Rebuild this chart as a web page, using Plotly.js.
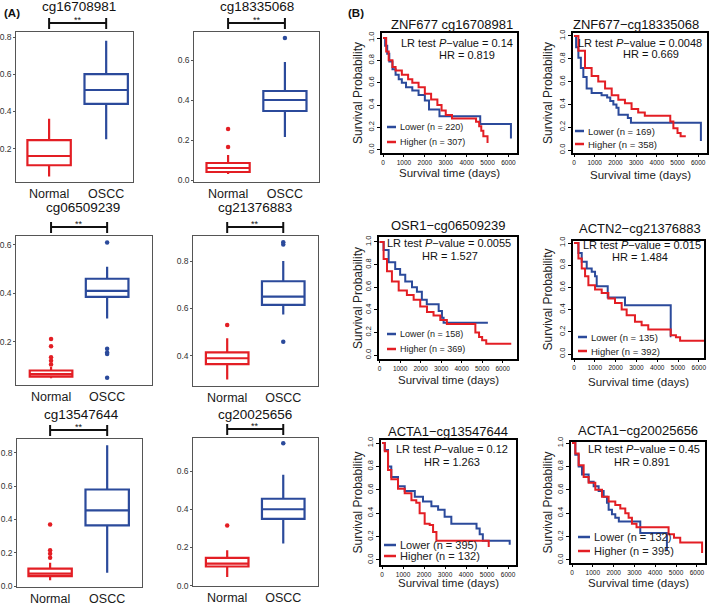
<!DOCTYPE html>
<html><head><meta charset="utf-8">
<script src="https://cdn.plot.ly/plotly-3.0.1.min.js"></script>
<style>html,body{margin:0;padding:0;background:#fff;}#plot{width:709px;height:606px;}</style>
</head><body><div id="plot"></div>
<script>
// ---------- DATA ----------
const probes = ['cg16708981','cg18335068','cg06509239','cg21376883','cg13547644','cg20025656'];
const groups = ['Normal','OSCC'];
// Normal group box stats
const normalQ1  = [0.11, 0.040, 0.055, 0.365, 0.060, 0.100];
const normalMed = [0.16, 0.060, 0.065, 0.390, 0.075, 0.115];
const normalQ3  = [0.245,0.085, 0.080, 0.415, 0.105, 0.145];
const normalLo  = [0.05, 0.030, 0.048, 0.300, 0.035, 0.045];
const normalHi  = [0.36, 0.125, 0.095, 0.475, 0.140, 0.185];
const normalOut = [[], [0.165,0.255], [0.105,0.12,0.135,0.18,0.21], [0.53], [0.17,0.195,0.215,0.37], [0.315]];
// OSCC group box stats
const osccQ1  = [0.44, 0.345, 0.385, 0.615, 0.365, 0.350];
const osccMed = [0.515,0.400, 0.410, 0.650, 0.455, 0.400];
const osccQ3  = [0.60, 0.445, 0.460, 0.715, 0.580, 0.455];
const osccLo  = [0.25, 0.215, 0.295, 0.575, 0.080, 0.220];
const osccHi  = [0.78, 0.590, 0.510, 0.800, 0.845, 0.580];
const osccOut = [[], [0.71], [0.61,0.17,0.155,0.148,0.05], [0.87,0.88,0.46], [], [0.745]];

// Kaplan-Meier panels
const kmTitles = ['ZNF677 cg16708981','ZNF677\u2212cg18335068','OSR1\u2212cg06509239','ACTN2\u2212cg21376883','ACTA1\u2212cg13547644','ACTA1\u2212cg20025656'];
const kmP  = ['0.14','0.0048','0.0055','0.015','0.12','0.45'];
const kmHR = ['0.819','0.669','1.527','1.484','1.263','0.891'];
const lowerN  = ['220','169','158','135','395','132'];
const higherN = ['307','358','369','392','132','395'];
const xTicksKM = [0,1000,2000,3000,4000,5000,6000];
const yTicksKM = [0,0.2,0.4,0.6,0.8,1.0];

const lowT1 = [0,100,200,300,450,600,750,900,1100,1400,1700,2000,2200,2700,4650,6120];
const lowS1 = [1,0.93,0.86,0.79,0.72,0.67,0.63,0.60,0.56,0.53,0.49,0.44,0.36,0.30,0.23,0.10];
const highT1 = [0,150,270,450,600,900,1200,1400,1700,2000,2300,2600,2800,3000,3300,4450,4600,4700,4800,5000];
const highS1 = [1,0.88,0.80,0.74,0.71,0.67,0.63,0.60,0.56,0.50,0.45,0.40,0.35,0.31,0.28,0.25,0.21,0.17,0.12,0.06];

const lowT2 = [0,100,210,330,450,610,850,1330,1600,1750,1900,2050,2150,2600,2750,6130];
const lowS2 = [1,0.90,0.81,0.72,0.64,0.54,0.50,0.48,0.46,0.43,0.40,0.37,0.31,0.28,0.24,0.08];
const highT2 = [0,210,530,850,1170,1500,1820,2140,2460,2780,3100,3420,4650,4800,5000,5150,5400];
const highS2 = [1,0.87,0.72,0.65,0.60,0.54,0.48,0.44,0.41,0.36,0.33,0.30,0.25,0.19,0.15,0.12,0.12];

const lowT3 = [0,195,440,760,1000,1250,1580,1820,2060,2300,2880,3040,3120,5280];
const lowS3 = [1,0.93,0.82,0.76,0.71,0.65,0.60,0.56,0.49,0.45,0.39,0.33,0.285,0.285];
const highT3 = [0,195,360,600,930,1330,1660,1980,2310,2630,2960,3280,4670,4850,5000,5200,6420];
const highS3 = [1,0.85,0.74,0.65,0.57,0.53,0.49,0.43,0.38,0.35,0.31,0.275,0.20,0.16,0.13,0.10,0.10];

const lowT4 = [0,210,370,610,850,1010,1090,1620,2450,4650,4680];
const lowS4 = [1,0.91,0.83,0.77,0.74,0.70,0.61,0.51,0.44,0.16,0.16];
const highT4 = [0,210,370,530,690,1010,1330,1650,1970,2290,2530,2930,3250,3570,4650,4900,5100,6250];
const highS4 = [1,0.86,0.77,0.70,0.62,0.58,0.55,0.50,0.46,0.40,0.35,0.29,0.26,0.22,0.17,0.15,0.12,0.12];

const lowT5 = [0,130,285,440,760,1080,1560,1950,2350,2670,2980,3300,4500,4650,4800,6080];
const lowS5 = [1,0.94,0.80,0.71,0.63,0.59,0.54,0.50,0.46,0.43,0.37,0.31,0.27,0.22,0.165,0.13];
const highT5 = [0,130,285,440,760,1080,1400,1630,1790,2030,2270,2430,2590,5080];
const highS5 = [1,0.93,0.77,0.69,0.61,0.57,0.51,0.49,0.40,0.31,0.30,0.24,0.165,0.11];

const lowT6 = [0,160,320,480,800,1040,1280,1520,1680,1760,1920,2080,2250,3280,4560];
const lowS6 = [1,0.90,0.80,0.73,0.67,0.63,0.59,0.54,0.49,0.43,0.39,0.36,0.33,0.23,0.08];
const highT6 = [0,160,320,560,800,1120,1440,1760,2080,2320,2560,2720,2880,3100,4640,4900,5200,6250];
const highS6 = [1,0.91,0.81,0.71,0.66,0.60,0.54,0.50,0.47,0.44,0.40,0.36,0.31,0.28,0.22,0.19,0.15,0.06];

const lowT = [lowT1,lowT2,lowT3,lowT4,lowT5,lowT6], lowS = [lowS1,lowS2,lowS3,lowS4,lowS5,lowS6];
const highT = [highT1,highT2,highT3,highT4,highT5,highT6], highS = [highS1,highS2,highS3,highS4,highS5,highS6];

// ---------- LAYOUT GEOMETRY (pixels) ----------
const W = 709, H = 606;
const px = x => x / W, py = y => 1 - y / H;
const RED = '#e31e24', BLUE = '#2b4a9b';
const FONT = 'Liberation Sans, Arial, sans-serif';

const boxFrames = [[16,133,32,182],[194,319,32,182],[16,152,236,385],[193,318,236,386],[17,142,439,587],[193,318,438,586]];
const boxXR = [[0.42,2.47],[0.40,2.60],[0.375,2.80],[0.39,2.62],[0.42,2.61],[0.39,2.62]];
const boxYR = [[0.02,0.827],[-0.01,0.74],[0.02,0.637],[0.273,0.906],[-0.005,0.883],[-0.002,0.773]];
const boxTitleXY = [[79,6],[257,6],[83,208],[255,208],[81,414],[255,414]];

const kmFrames = [[382,517,33,153],[573,707,33,153],[379,517,237,359],[573,704,241,358],[381,516,440,565],[571,705,442,563]];
const kmXR = [[-50,6410],[-50,6425],[-30,6700],[-50,6250],[-50,6380],[-48,6390]];
const kmYR = [[-0.03,1.045],[-0.026,1.026],[-0.035,1.044],[-0.036,1.018],[-0.043,1.026],[-0.026,1.009]];
const kmTitleXY = [[452,24],[636,24],[448,226],[640,228],[448,431],[638,430]];
const kmLR = [[515,43],[704,43],[513,243],[703,245],[510,449],[702,449]];
const kmHRpos = [[467,55],[651,54],[450,256],[640,257],[452,462],[642,462]];
const kmLeg = [[387,127,142,9],[575,131,144,9.5],[387,334,349,9],[578,337,351,9.5],[384,545,556,11],[578,537,551,11]];
const kmYlabX = [358,548,358,547,357,547];
const kmXlabY = [173,175,380,382,583,583];

const data = [];
const layout = {
  width: W, height: H, margin:{l:0,r:0,t:0,b:0}, showlegend:false,
  paper_bgcolor:'#fff', plot_bgcolor:'#fff', font:{family:FONT, color:'#111'},
  annotations: [], shapes: []
};

// ---------- BOX PANELS ----------
for (let i = 0; i < 6; i++) {
  const n = i + 1, xa = 'x' + (n === 1 ? '' : n), ya = 'y' + (n === 1 ? '' : n);
  const f = boxFrames[i];
  const axX = 'xaxis' + (n === 1 ? '' : n), axY = 'yaxis' + (n === 1 ? '' : n);
  layout[axX] = {domain:[px(f[0]), px(f[1])], range:boxXR[i], anchor:ya, tickvals:[1,2], ticktext:groups,
    showline:true, mirror:true, linecolor:'#555', linewidth:1.3, ticks:'', 
    tickfont:{size:12.5, color:'#1a1a1a', family:FONT}, showgrid:false, zeroline:false, fixedrange:true};
  layout[axY] = {domain:[py(f[3]), py(f[2])], range:boxYR[i], anchor:xa, tick0:0, dtick:0.2, tickformat:'.1f',
    showline:true, mirror:true, linecolor:'#555', linewidth:1.3, ticks:'outside', ticklen:1.5, tickcolor:'#555',
    tickfont:{size:8.5, color:'#333', family:FONT}, showgrid:false, zeroline:false, fixedrange:true};
  const stats = [
    [normalQ1[i], normalMed[i], normalQ3[i], normalLo[i], normalHi[i], normalOut[i], RED],
    [osccQ1[i], osccMed[i], osccQ3[i], osccLo[i], osccHi[i], osccOut[i], BLUE]
  ];
  stats.forEach((s, g) => {
    data.push({type:'box', x:[g+1], q1:[s[0]], median:[s[1]], q3:[s[2]], lowerfence:[s[3]], upperfence:[s[4]],
      width:0.76, whiskerwidth:0, boxpoints:false, line:{color:s[6], width:2.2}, fillcolor:'#fff',
      xaxis:xa, yaxis:ya, hoverinfo:'skip'});
    if (s[5].length) data.push({type:'scatter', mode:'markers', x:s[5].map(() => g+1), y:s[5],
      marker:{color:s[6], size:4.5}, xaxis:xa, yaxis:ya, hoverinfo:'skip', cliponaxis:false});
  });
  layout.annotations.push({text:probes[i], xref:'paper', yref:'paper', x:px(boxTitleXY[i][0]), y:py(boxTitleXY[i][1]),
    xanchor:'center', yanchor:'middle', showarrow:false, font:{size:13.5, color:'#111', family:FONT}});
  const top = f[2];
  layout.shapes.push({type:'line', xref:xa, yref:'paper', x0:1, x1:2, y0:py(top-9), y1:py(top-9), line:{color:'#111', width:2}});
  layout.shapes.push({type:'line', xref:xa, yref:'paper', x0:1, x1:1, y0:py(top-14), y1:py(top-3), line:{color:'#111', width:2}});
  layout.shapes.push({type:'line', xref:xa, yref:'paper', x0:2, x1:2, y0:py(top-14), y1:py(top-3), line:{color:'#111', width:2}});
  layout.annotations.push({text:'**', xref:xa, yref:'paper', x:1.5, y:py(top-12), xanchor:'center', yanchor:'middle',
    showarrow:false, font:{size:9, color:'#111', family:FONT}});
}

// ---------- KM PANELS ----------
for (let i = 0; i < 6; i++) {
  const n = i + 7, xa = 'x' + n, ya = 'y' + n;
  const f = kmFrames[i];
  layout['xaxis' + n] = {domain:[px(f[0]), px(f[1])], range:kmXR[i], anchor:ya, tickvals:xTicksKM,
    showline:true, mirror:true, linecolor:'#000', linewidth:1.7, ticks:'outside', ticklen:2.5, tickcolor:'#000',
    tickfont:{size:6.5, color:'#111', family:FONT}, showgrid:false, zeroline:false, fixedrange:true};
  layout['yaxis' + n] = {domain:[py(f[3]), py(f[2])], range:kmYR[i], anchor:xa, tickvals:yTicksKM, tickformat:'.1f', tickangle:-90,
    showline:true, mirror:true, linecolor:'#000', linewidth:1.7, ticks:'outside', ticklen:3, tickcolor:'#000',
    tickfont:{size:7.5, color:'#111', family:FONT}, showgrid:false, zeroline:false, fixedrange:true};
  data.push({type:'scatter', mode:'lines', x:lowT[i], y:lowS[i], line:{shape:'hv', color:BLUE, width:2},
    xaxis:xa, yaxis:ya, hoverinfo:'skip'});
  data.push({type:'scatter', mode:'lines', x:highT[i], y:highS[i], line:{shape:'hv', color:RED, width:2},
    xaxis:xa, yaxis:ya, hoverinfo:'skip'});
  const A = layout.annotations;
  A.push({text:kmTitles[i], xref:'paper', yref:'paper', x:px(kmTitleXY[i][0]), y:py(kmTitleXY[i][1]), xanchor:'center', yanchor:'middle',
    showarrow:false, font:{size:13, color:'#111', family:FONT}});
  A.push({text:'LR test <i>P</i>\u2212value = ' + kmP[i], xref:'paper', yref:'paper', x:px(kmLR[i][0]), y:py(kmLR[i][1]),
    xanchor:'right', yanchor:'middle', showarrow:false, font:{size:11, color:'#111', family:FONT}});
  A.push({text:'HR = ' + kmHR[i], xref:'paper', yref:'paper', x:px(kmHRpos[i][0]), y:py(kmHRpos[i][1]),
    xanchor:'center', yanchor:'middle', showarrow:false, font:{size:11, color:'#111', family:FONT}});
  const L = kmLeg[i], segLen = L[3] >= 11 ? 12 : 9;
  layout.shapes.push({type:'line', xref:'paper', yref:'paper', x0:px(L[0]), x1:px(L[0]+segLen), y0:py(L[1]), y1:py(L[1]), line:{color:BLUE, width:2.5}});
  layout.shapes.push({type:'line', xref:'paper', yref:'paper', x0:px(L[0]), x1:px(L[0]+segLen), y0:py(L[2]), y1:py(L[2]), line:{color:RED, width:2.5}});
  A.push({text:'Lower (n = ' + lowerN[i] + ')', xref:'paper', yref:'paper', x:px(L[0]+segLen+2), y:py(L[1]), xanchor:'left', yanchor:'middle',
    showarrow:false, font:{size:L[3], color:'#222', family:FONT}});
  A.push({text:'Higher (n = ' + higherN[i] + ')', xref:'paper', yref:'paper', x:px(L[0]+segLen+2), y:py(L[2]), xanchor:'left', yanchor:'middle',
    showarrow:false, font:{size:L[3], color:'#222', family:FONT}});
  A.push({text:'Survival Probability', xref:'paper', yref:'paper', x:px(kmYlabX[i]), y:py((f[2]+f[3])/2), textangle:-90,
    xanchor:'center', yanchor:'middle', showarrow:false, font:{size:12, color:'#222', family:FONT}});
  A.push({text:'Survival time (days)', xref:'paper', yref:'paper', x:px((f[0]+f[1])/2), y:py(kmXlabY[i]),
    xanchor:'center', yanchor:'middle', showarrow:false, font:{size:11.5, color:'#222', family:FONT}});
}

layout.annotations.push({text:'<b>(A)</b>', xref:'paper', yref:'paper', x:px(2), y:py(13), xanchor:'left', yanchor:'middle', showarrow:false, font:{size:11.5, color:'#111', family:FONT}});
layout.annotations.push({text:'<b>(B)</b>', xref:'paper', yref:'paper', x:px(346), y:py(13), xanchor:'left', yanchor:'middle', showarrow:false, font:{size:11.5, color:'#111', family:FONT}});

Plotly.newPlot('plot', data, layout, {staticPlot:true, displayModeBar:false});
</script></body></html>
